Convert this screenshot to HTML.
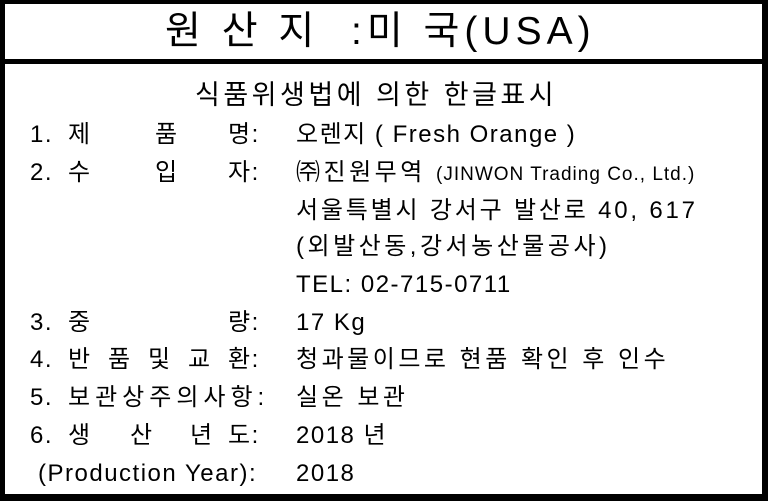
<!DOCTYPE html>
<html><head><meta charset="utf-8"><style>
html,body{margin:0;padding:0;background:#fff}
#lab{position:relative;width:768px;height:501px;background:#fff;font-family:"Liberation Sans","Noto Sans CJK KR","NanumGothic",sans-serif;color:#000;overflow:hidden}
.b{position:absolute;background:#000}
.t{position:absolute;white-space:pre;line-height:30px;height:30px;font-size:24px;letter-spacing:1.5px}
.k{letter-spacing:3.5px}
</style></head><body>
<div id="lab">
<div class="b" style="left:0;top:0;width:768px;height:4px"></div>
<div class="b" style="left:0;top:0;width:5px;height:501px"></div>
<div class="b" style="left:762px;top:0;width:6px;height:501px"></div>
<div class="b" style="left:0;top:494px;width:768px;height:7px"></div>
<div class="b" style="left:0;top:59px;width:768px;height:5px"></div>
<div class="t" style="left:165px;top:9px;height:46px;line-height:46px;font-size:39px;letter-spacing:5px">원 산 지  :미 국(USA)</div>
<div class="t" style="left:195px;top:80px;font-size:27px;letter-spacing:3.5px">식품위생법에 의한 한글표시</div>

<div>
<div class="t" style="left:30px;top:120px">1.</div><div class="t" style="left:68px;top:120px">제</div><div class="t" style="left:155px;top:120px">품</div><div class="t" style="left:228px;top:120px">명:</div></div>
<div class="t" style="left:296px;top:120px">오렌지 ( Fresh Orange )</div>

<div>
<div class="t" style="left:30px;top:158px">2.</div><div class="t" style="left:68px;top:158px">수</div><div class="t" style="left:155px;top:158px">입</div><div class="t" style="left:228px;top:158px">자:</div></div>
<div class="t k" style="left:296px;top:158px">㈜진원무역 <span style="font-size:19px;letter-spacing:1px">(JINWON Trading Co., Ltd.)</span></div>
<div class="t k" style="left:296px;top:196px;letter-spacing:2.8px">서울특별시 강서구 발산로 40, 617</div>
<div class="t k" style="left:296px;top:232px">(외발산동,강서농산물공사)</div>
<div class="t" style="left:296px;top:270px">TEL: 02-715-0711</div>

<div>
<div class="t" style="left:30px;top:308px">3.</div><div class="t" style="left:68px;top:308px">중</div><div class="t" style="left:228px;top:308px">량:</div></div>
<div class="t" style="left:296px;top:308px">17 Kg</div>

<div>
<div class="t" style="left:30px;top:345px">4.</div><div class="t" style="left:68px;top:345px">반</div><div class="t" style="left:108px;top:345px">품</div><div class="t" style="left:148px;top:345px">및</div><div class="t" style="left:188px;top:345px">교</div><div class="t" style="left:228px;top:345px">환:</div></div>
<div class="t k" style="left:296px;top:345px">청과물이므로 현품 확인 후 인수</div>

<div>
<div class="t" style="left:30px;top:383px">5.</div><div class="t" style="left:68px;top:383px;letter-spacing:5px">보관상주의사항:</div></div>
<div class="t k" style="left:296px;top:383px">실온 보관</div>

<div>
<div class="t" style="left:30px;top:421px">6.</div><div class="t" style="left:68px;top:421px">생</div><div class="t" style="left:130px;top:421px">산</div><div class="t" style="left:190px;top:421px">년</div><div class="t" style="left:228px;top:421px">도:</div></div>
<div class="t" style="left:296px;top:421px">2018 년</div>
<div class="t" style="left:38px;top:459px;letter-spacing:1.5px">(Production Year):</div>
<div class="t" style="left:296px;top:459px">2018</div>
</div>
</body></html>
